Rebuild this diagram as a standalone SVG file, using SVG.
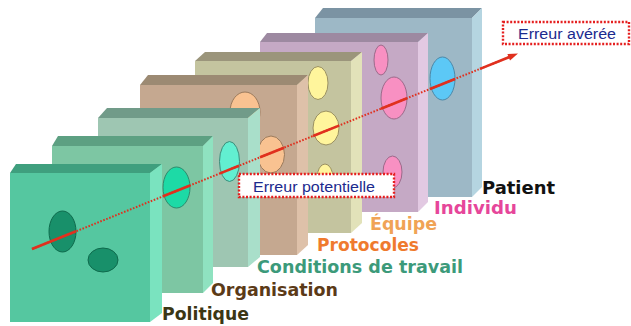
<svg xmlns="http://www.w3.org/2000/svg" width="631" height="326" viewBox="0 0 631 326">
<style>
.lbl{font-family:"DejaVu Sans",Verdana,sans-serif;font-weight:bold;font-size:18px}
.box{fill:#fff;stroke:#E51F1F;stroke-width:2.4;stroke-dasharray:2 1.6}
.btxt{font-family:"Liberation Sans",Arial,sans-serif;font-size:15.5px;fill:#1B2A8E}
.dot{fill:none;stroke:#E0301E;stroke-width:2;stroke-dasharray:1.6 1.6}
.sol{fill:none;stroke:#E0301E;stroke-width:2.6}
.h{stroke-width:1}
</style>
<rect width="631" height="326" fill="#fff"/>

<g id="patient">
<rect x="315" y="18" width="157" height="179" fill="#9DB8C6"/>
<polygon points="315,18 323,8 482,8 472,18" fill="#7B93A3"/>
<polygon points="472,18 482,8 482,187 472,197" fill="#B5D5E1"/>
<ellipse cx="442.5" cy="78.5" rx="12.5" ry="21.5" fill="#5CC8F6" stroke="#4B88A8" class="h"/>
<text class="lbl" x="482" y="194" textLength="73" lengthAdjust="spacingAndGlyphs" fill="#111">Patient</text>
</g>

<g id="individu">
<rect x="260" y="42" width="158" height="170" fill="#C5A9C5"/>
<polygon points="260,42 267,33 428,33 418,42" fill="#9D89A1"/>
<polygon points="418,42 428,33 428,202 418,212" fill="#E2C9E2"/>
<ellipse cx="381" cy="60" rx="7" ry="15" fill="#F890C2" stroke="#9C6A8A" class="h"/>
<ellipse cx="394" cy="98" rx="13" ry="21" fill="#F890C2" stroke="#9C6A8A" class="h"/>
<ellipse cx="392.5" cy="172" rx="9.5" ry="16" fill="#F890C2" stroke="#9C6A8A" class="h"/>
<text class="lbl" x="434" y="214" textLength="83" lengthAdjust="spacingAndGlyphs" fill="#E6469A">Individu</text>
</g>

<g id="equipe">
<rect x="195" y="61" width="156" height="172" fill="#C4C49F"/>
<polygon points="195,61 205,52 362,52 351,61" fill="#9B957B"/>
<polygon points="351,61 362,52 362,223 351,233" fill="#E2E2B9"/>
<ellipse cx="318" cy="83" rx="10" ry="16.5" fill="#FFF59C" stroke="#9A9062" class="h"/>
<ellipse cx="326" cy="128" rx="13" ry="17" fill="#FFF59C" stroke="#9A9062" class="h"/>
<ellipse cx="325" cy="178" rx="8" ry="14" fill="#FFF59C" stroke="#9A9062" class="h"/>
<text class="lbl" x="370" y="230" textLength="67" lengthAdjust="spacingAndGlyphs" fill="#F0A356">Équipe</text>
</g>

<g id="protocoles">
<rect x="140" y="85" width="157" height="170" fill="#C5A890"/>
<ellipse cx="245" cy="112" rx="15" ry="20" fill="#F9C291" stroke="#9A7A5C" class="h"/>
<ellipse cx="271" cy="154.5" rx="13.5" ry="18.5" fill="#F9C291" stroke="#9A7A5C" class="h"/>
<polygon points="140,85 148,75 308,75 297,85" fill="#9C8A73"/>
<polygon points="297,85 308,75 308,245 297,255" fill="#DEC1A9"/>
<text class="lbl" x="317" y="251" textLength="102" lengthAdjust="spacingAndGlyphs" fill="#EF7A2E">Protocoles</text>
</g>

<g id="conditions">
<rect x="98" y="118" width="150" height="149" fill="#9EC6B2"/>
<polygon points="98,118 107,108 260,108 248,118" fill="#719B89"/>
<polygon points="248,118 260,108 260,257 248,267" fill="#A9DFCA"/>
<ellipse cx="229.5" cy="161.5" rx="10" ry="20" fill="#62EFD1" stroke="#3E8C7A" class="h"/>
<text class="lbl" x="257" y="273" textLength="206" lengthAdjust="spacingAndGlyphs" fill="#3C9A7A">Conditions de travail</text>
</g>

<g id="organisation">
<rect x="52" y="146" width="151" height="147" fill="#7DC6A3"/>
<polygon points="52,146 58,136 213,136 203,146" fill="#5DA082"/>
<polygon points="203,146 213,136 213,283 203,293" fill="#8FE2C0"/>
<ellipse cx="176.5" cy="187.5" rx="13.5" ry="20.5" fill="#1DDAA6" stroke="#2E8A6C" class="h"/>
<text class="lbl" x="211" y="296" textLength="127" lengthAdjust="spacingAndGlyphs" fill="#5B3A17">Organisation</text>
</g>

<g id="politique">
<rect x="10" y="173" width="140" height="149" fill="#55C7A0"/>
<polygon points="10,173 16,164 162,164 150,173" fill="#3F9F7E"/>
<polygon points="150,173 162,164 162,313 150,322" fill="#7AE3BF"/>
<ellipse cx="62.5" cy="231.5" rx="13.5" ry="20.5" fill="#18906A" stroke="#0E6A4C" class="h"/>
<ellipse cx="103" cy="260" rx="15" ry="12" fill="#18906A" stroke="#0E6A4C" class="h"/>
<text class="lbl" x="162" y="320" textLength="87" lengthAdjust="spacingAndGlyphs" fill="#3B3614">Politique</text>
</g>

<g id="connectors">
<path class="dot" d="M32,249 L510,56.8"/>
<path class="sol" d="M32,249 L76,231.3"/>
<path class="sol" d="M163,196.3 L190,185.5"/>
<path class="sol" d="M220,173.4 L239,165.8"/>
<path class="sol" d="M260,157.3 L284,147.7"/>
<path class="sol" d="M313,136 L339,125.6"/>
<path class="sol" d="M381,108.7 L407,98.2"/>
<path class="sol" d="M430,89 L455,79"/>
<path class="sol" d="M480,68.9 L510,56.8"/>
<polygon points="518,53.6 510,60.5 507.4,54" fill="#E0301E"/>
</g>

<g id="erreur-potentielle">
<rect class="box" x="239" y="174" width="155" height="23"/>
<text class="btxt" x="253" y="191.5" textLength="122" lengthAdjust="spacingAndGlyphs">Erreur potentielle</text>
</g>

<g id="erreur-averee">
<rect class="box" x="503" y="22" width="126" height="22"/>
<text class="btxt" x="518" y="39" textLength="98" lengthAdjust="spacingAndGlyphs">Erreur avérée</text>
</g>
</svg>
